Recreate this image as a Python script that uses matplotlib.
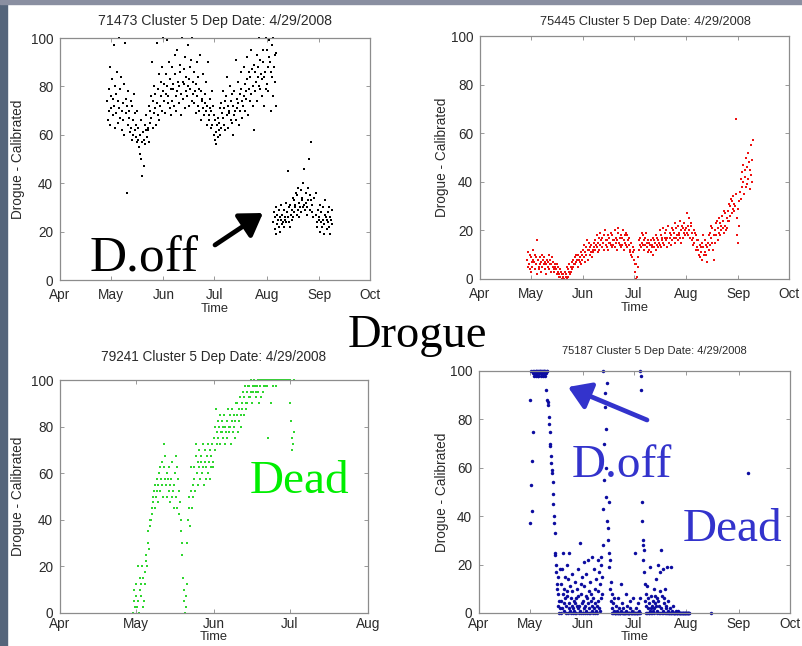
import matplotlib
matplotlib.use('Agg')
import matplotlib.pyplot as plt
import matplotlib.dates as mdates
from matplotlib.patches import FancyArrowPatch, Rectangle
import numpy as np

# Drogue sensor (calibrated) for four Cluster 5 drifters, deployed 4/29/2008.
# Each series is read at a fixed interval from its start time.

# 71473 - one reading every 8 h; drogue on, then off from early Aug
start_71473_on = '2008-04-29T00:00'
drogue_71473_on = [
    74, 66, 79, 70, 88, 64, 76, 71, 83, 68, 75, 97, 72, 63, 80,
    77, 69, 86, 65, 74, 100, 71, 79, 67, 84, 70, 62, 73, 66, 81,
    60, 98, 75, 69, 36, 72, 64, 78, 70, 67, 61, 74, 63, 72, 58,
    66, 60, 77, 62, 69, 59, 64, 57, 70, 58, 63, 55, 60, 52, 66,
    50, 57, 43, 61, 47, 58, 56, 64, 62, 68, 59, 63, 62, 72, 57,
    70, 65, 76, 67, 90, 63, 74, 69, 80, 71, 77, 64, 98, 73, 68,
    79, 66, 85, 72, 82, 76, 88, 70, 78, 100, 74, 81, 69, 85, 77,
    80, 99, 73, 76, 90, 71, 83, 68, 79, 74, 88, 81, 79, 72, 93,
    85, 76, 70, 78, 95, 82, 73, 80, 86, 89, 77, 68, 100, 82, 75,
    81, 87, 71, 92, 78, 84, 76, 97, 80, 83, 72, 88, 79, 91, 74,
    100, 77, 82, 73, 86, 78, 81, 69, 90, 76, 84, 72, 70, 79, 93,
    78, 66, 75, 74, 85, 71, 68, 77, 73, 82, 70, 64, 72, 90, 68,
    66, 75, 71, 70, 63, 78, 64, 72, 60, 68, 58, 66, 61, 56, 64,
    59, 67, 62, 65, 71, 60, 73, 63, 69, 67, 78, 64, 71, 62, 74,
    76, 68, 84, 63, 72, 70, 69, 80, 66, 74, 65, 77, 60, 72, 68,
    78, 70, 91, 66, 75, 71, 73, 82, 64, 70, 77, 86, 79, 67, 74,
    72, 88, 76, 81, 70, 78, 75, 92, 83, 68, 79, 86, 84, 74, 95,
    77, 87, 72, 80, 62, 89, 86, 78, 82, 74, 93, 84, 88, 80, 100,
    79, 91, 85, 83, 76, 95, 90, 84, 72, 86, 100, 79, 95, 81, 88,
    78, 92, 99, 90, 70, 86, 84, 97, 76, 100, 88, 93, 82, 94, 72,
]
start_71473_off_a = '2008-08-05T00:00'
drogue_71473_off_a = [
    24, 28, 21, 26, 19, 30, 23, 27, 25, 29, 22, 26,
    20, 25, 31, 27, 23, 24, 22, 29, 26, 25, 32, 24,
    28, 45, 26, 24, 30, 22, 31, 27, 25, 29, 34, 26,
    33, 28, 31, 30, 36, 27, 35, 29, 38, 32, 26, 30,
    28, 37, 33, 34, 30, 40, 31, 46, 29, 36, 32, 27,
    30, 38, 33, 50, 29, 35, 33, 57, 28, 31, 26, 34,
]
start_71473_off_b = '2008-08-30T00:00'
drogue_71473_off_b = [
    27, 36, 24, 22, 29, 25, 26, 20, 31, 24, 28, 22, 30, 25, 19,
    23, 27, 33, 26, 21, 25, 28, 24, 30, 22, 26, 19, 25, 29, 23,
]

# 75445 - one reading every 8 h
start_75445 = '2008-04-29T00:00'
drogue_75445 = [
    8, 11, 5, 6, 10, 4, 9, 3, 7, 5, 12, 8, 7, 4, 10,
    9, 6, 2, 16, 8, 5, 4, 9, 6, 7, 3, 10, 5, 8, 6,
    9, 4, 7, 6, 2, 8, 7, 5, 10, 4, 8, 6, 6, 3, 9,
    5, 7, 4, 3, 6, 5, 4, 2, 6, 5, 3, 1, 2, 4, 1,
    3, 0, 2, 1, 2, 0, 0, 3, 1, 2, 5, 0, 4, 1, 3,
    6, 2, 5, 3, 7, 4, 8, 5, 6, 9, 6, 10, 7, 10, 8,
    10, 5, 8, 9, 7, 11, 6, 8, 10, 12, 9, 14, 11, 7, 13,
    10, 16, 12, 8, 12, 15, 13, 10, 11, 14, 9, 12, 11, 15, 13,
    16, 12, 14, 13, 18, 11, 15, 12, 17, 14, 19, 16, 17, 13, 15,
    15, 18, 12, 20, 14, 16, 16, 13, 18, 12, 17, 15, 15, 19, 14,
    18, 13, 16, 14, 16, 20, 13, 17, 15, 16, 12, 21, 19, 15, 17,
    14, 18, 13, 17, 14, 20, 12, 16, 18, 15, 19, 14, 18, 13, 16,
    14, 17, 11, 12, 15, 10, 9, 13, 11, 8, 12, 6, 3, 0, 6,
    1, 5, 9, 12, 16, 14, 17, 13, 19, 15, 18, 14, 16, 12, 17,
    14, 19, 15, 13, 16, 11, 15, 12, 14, 11, 16, 13, 14, 10, 17,
    16, 13, 15, 12, 18, 14, 17, 13, 16, 15, 20, 14, 18, 13, 17,
    16, 21, 15, 14, 17, 19, 20, 16, 13, 17, 22, 15, 15, 19, 17,
    18, 14, 21, 16, 20, 17, 19, 15, 23, 17, 21, 18, 22, 16, 19,
    18, 24, 17, 20, 15, 22, 17, 21, 19, 23, 18, 20, 21, 27, 19,
    18, 22, 25, 20, 17, 23, 22, 19, 16, 17, 14, 20, 15, 19, 12,
    18, 13, 16, 12, 16, 10, 14, 9, 13, 11, 15, 8, 13, 18, 10,
    16, 11, 14, 10, 7, 13, 15, 12, 18, 19, 14, 22, 17, 21, 15,
    12, 8, 18, 20, 15, 23, 18, 24, 16, 21, 19, 25, 23, 18, 22,
    20, 26, 21, 24, 19, 28, 22, 27, 20, 25, 21, 24, 28, 24, 31,
    30, 26, 33, 27, 32, 29, 34, 28, 31, 30, 66, 35, 25, 18, 29,
    15, 22, 32, 36, 41, 33, 44, 38, 47, 40, 35, 45, 42, 50, 38,
    46, 39, 52, 41, 48, 37, 45, 55, 43, 49, 40, 57,
]

# 79241 - one reading every 6 h
start_79241 = '2008-04-30T00:00'
drogue_79241 = [
    0, 5, 10, 2.5, 7.5, 12.5, 2.5, 20, 5, 0, 15, 10, 12.5, 7.5, 20, 2.5,
    15, 5, 17.5, 12.5, 22.5, 25, 20, 30, 35, 27.5, 37.5, 40, 40, 45, 42.5, 50,
    47.5, 52.5, 45, 55, 50, 57.5, 52.5, 47.5, 55, 60, 52.5, 62.5, 57.5, 65, 55, 50,
    62.5, 72.5, 57.5, 67.5, 55, 60, 50, 57.5, 52.5, 62.5, 55, 47.5, 57.5, 50, 65, 52.5,
    45, 55, 60, 67.5, 50, 62.5, 45, 57.5, 52.5, 42.5, 47.5, 40, 35, 30, 25, 15,
    10, 5, 0, 2.5, 7.5, 12.5, 30, 40, 45, 50, 37.5, 62.5, 52.5, 45, 55, 50,
    57.5, 62.5, 52.5, 67.5, 72.5, 60, 65, 55, 62.5, 70, 57.5, 65, 67.5, 60, 72.5, 62.5,
    55, 65, 70, 57.5, 62.5, 67.5, 60, 72.5, 65, 57.5, 70, 62.5, 67.5, 72.5, 65, 62.5,
    75, 80, 70, 87.5, 72.5, 77.5, 82.5, 75, 80, 72.5, 85, 77.5, 77.5, 82.5, 75, 80,
    85, 80, 72.5, 77.5, 82.5, 75, 87.5, 80, 77.5, 85, 80, 72.5, 82.5, 87.5, 77.5, 85,
    80, 75, 82.5, 90, 85, 90, 77.5, 87.5, 82.5, 92.5, 85, 80, 90, 87.5, 95, 85,
    92.5, 97.5, 90, 87.5, 95, 90, 97.5, 92.5, 97.5, 92.5, 100, 95, 90, 97.5, 95, 100,
    100, 97.5, 92.5, 95, 97.5, 100, 95, 90, 100, 97.5, 100, 92.5, 100, 95, 100, 97.5,
    100, 100, 97.5, 100, 97.5, 100, 75, 100, 100, 100, 90, 100, 100, 97.5, 100, 100,
    100, 100, 100, 97.5, 100, 100, 100, 100, 100, 100, 100, 100, 100, 100, 100, 100,
    100, 100, 100, 100, 100, 100, 100, 100, 100, 90, 82.5, 75, 70, 72.5, 77.5, 100,
]

# 75187 - one reading every 6 h, then two late fixes
start_75187 = '2008-05-01T00:00'
drogue_75187 = [
    88, 37, 53, 100, 42, 63, 99, 75, 100, 98, 100, 99, 99, 100, 98, 100,
    100, 99, 100, 98, 98, 100, 99, 100, 100, 98, 100, 99, 99, 100, 100, 98,
    100, 99, 100, 98, 100, 92, 99, 100, 88, 100, 87, 86, 81, 78, 75, 70,
    69, 65, 62, 59, 58, 54, 49, 45, 40, 37, 33, 25, 24, 17, 20, 12,
    10, 3, 15, 8, 0, 5, 18, 2, 5, 12, 0, 18, 2, 8, 25, 4,
    10, 1, 6, 15, 0, 3, 9, 20, 7, 0, 14, 2, 4, 25, 1, 11,
    0, 6, 3, 16, 9, 2, 0, 5, 1, 13, 4, 0, 6, 0, 10, 3,
    18, 2, 7, 0, 3, 29, 1, 12, 0, 8, 4, 15, 5, 0, 21, 2,
    11, 3, 0, 7, 1, 16, 6, 0, 22, 4, 0, 9, 2, 0, 13, 5,
    8, 23, 1, 3, 0, 6, 18, 2, 4, 0, 10, 1, 14, 3, 0, 22,
    5, 9, 2, 17, 1, 12, 23, 6, 20, 8, 15, 28, 43, 100, 70, 55,
    91, 85, 76, 48, 60, 38, 95, 30, 35, 19, 46, 25, 10, 22, 5, 13,
    2, 8, 0, 4, 0, 1, 6, 0, 0, 0, 3, 0, 1, 0, 0, 6,
    0, 2, 0, 0, 0, 0, 12, 1, 0, 4, 0, 0, 2, 0, 0, 0,
    0, 0, 1, 8, 0, 3, 0, 0, 0, 0, 0, 2, 5, 0, 0, 0,
    0, 1, 0, 6, 0, 0, 25, 0, 0, 2, 0, 0, 0, 0, 4, 0,
    1, 0, 6, 0, 100, 98, 92, 38, 46, 30, 28, 22, 17, 26, 12, 5,
    3, 8, 0, 11, 0, 6, 2, 0, 4, 0, 19, 1, 7, 2, 0, 3,
    0, 5, 1, 10, 2, 0, 7, 4, 14, 3, 0, 6, 1, 20, 5, 0,
    3, 9, 0, 17, 26, 2, 7, 0, 0, 18, 1, 4, 6, 0, 10, 2,
    0, 3, 0, 19, 1, 0, 5, 0, 0, 2, 0, 0, 0, 19, 1, 0,
    3, 0, 0, 0, 0, 0, 0, 1, 0, 0, 0, 0, 0, 1, 0, 0,
    0, 0, 0, 0, 0, 0, 0, 0, 0, 0, 0, 0, 0, 0, 0, 0,
    0, 0, 0, 0, 0, 0, 0, 0,
]
extra_75187_dates = ['2008-08-15T12:00', '2008-09-06T00:00']
extra_75187_vals = [0, 58]


def times(start, n, hours):
    return np.datetime64(start) + np.arange(n) * np.timedelta64(hours, 'h')


plt.rcParams['font.family'] = 'Liberation Sans'

fig = plt.figure(figsize=(8.02, 6.46), dpi=100)
fig.patch.set_facecolor('white')

# slide background showing at the left and top edge
fig.add_artist(Rectangle((0, 0), 7 / 802, 1, transform=fig.transFigure,
                         color='#55657b', zorder=0))
fig.add_artist(Rectangle((0, 1 - 4 / 646), 1, 4 / 646, transform=fig.transFigure,
                         color='#8a8fa1', zorder=0))

ax1 = fig.add_axes([60 / 802, 1 - 280 / 646, 310 / 802, 242 / 646])
ax2 = fig.add_axes([480 / 802, 1 - 279 / 646, 309 / 802, 243 / 646])
ax3 = fig.add_axes([60 / 802, 1 - 613 / 646, 308 / 802, 233 / 646])
ax4 = fig.add_axes([479 / 802, 1 - 613 / 646, 311 / 802, 242 / 646])

dot = dict(linestyle='none', marker='s', markeredgewidth=0, clip_on=False)

ax1.plot(times(start_71473_on, len(drogue_71473_on), 8), drogue_71473_on,
         color='black', markersize=1.9, **dot)
ax1.plot(times(start_71473_off_a, len(drogue_71473_off_a), 8), drogue_71473_off_a,
         color='black', markersize=1.9, **dot)
ax1.plot(times(start_71473_off_b, len(drogue_71473_off_b), 8), drogue_71473_off_b,
         color='black', markersize=1.9, **dot)

ax2.plot(times(start_75445, len(drogue_75445), 8), drogue_75445,
         color='#ee1111', markersize=2.0, **dot)

ax3.plot(times(start_79241, len(drogue_79241), 6), drogue_79241,
         color='#2fd62f', markersize=2.1, **dot)

ax4.plot(times(start_75187, len(drogue_75187), 6), drogue_75187,
         color='#0c0ca0', linestyle='none', marker='o', markersize=2.5,
         markeredgewidth=0, clip_on=False)
ax4.plot(np.array(extra_75187_dates, dtype='datetime64[m]'), extra_75187_vals,
         color='#0c0ca0', linestyle='none', marker='o', markersize=2.5,
         markeredgewidth=0, clip_on=False)


def style(ax, title, tsize, tpad, tx, end, ylab_x, xlab_y, xpad):
    ax.set_ylim(0, 100)
    ax.set_yticks([0, 20, 40, 60, 80, 100])
    ax.set_xlim(np.datetime64('2008-04-01'), np.datetime64(end))
    ax.xaxis.set_major_locator(mdates.MonthLocator())
    ax.xaxis.set_major_formatter(mdates.DateFormatter('%b'))
    ax.tick_params(direction='in', length=3, width=0.6, color='#888888',
                   labelsize=9.8, labelcolor='#2a2a2a', top=True, right=True)
    ax.tick_params(axis='x', pad=xpad)
    ax.tick_params(axis='y', pad=5)
    for s in ax.spines.values():
        s.set_color('#8c8c8c')
        s.set_linewidth(0.9)
    ax.set_title(title, fontsize=tsize, pad=tpad, x=tx, color='#2a2a2a')
    ax.set_xlabel('Time', fontsize=9.3, color='#2a2a2a')
    ax.set_ylabel('Drogue - Calibrated', fontsize=9.8, color='#2a2a2a')
    ax.xaxis.set_label_coords(0.5, xlab_y)
    ax.yaxis.set_label_coords(ylab_x, 0.5)
    ax.xaxis.label.set_va('center')
    ax.yaxis.label.set_va('center')


style(ax1, '71473 Cluster 5 Dep Date: 4/29/2008', 10.2, 9.4, 0.5, '2008-10-01', -0.135, -0.12, 5.5)
style(ax2, '75445 Cluster 5 Dep Date: 4/29/2008', 9.2, 8, 0.536, '2008-10-01', -0.124, -0.12, 5.5)
style(ax3, '79241 Cluster 5 Dep Date: 4/29/2008', 9.8, 13.7, 0.5, '2008-08-01', -0.136, -0.104, 3.0)
style(ax4, '75187 Cluster 5 Dep Date: 4/29/2008', 8.0, 12, 0.564, '2008-10-01', -0.12, -0.1, 3.0)

# slide annotations
serif = 'Liberation Serif'
fig.text(417.5 / 802, 1 - 347 / 646, 'Drogue', fontsize=33.5, family=serif,
         ha='center', va='baseline', color='black')
fig.text(90 / 802, 1 - 272 / 646, 'D.off', fontsize=37, family=serif,
         ha='left', va='baseline', color='black')
fig.text(250 / 802, 1 - 493 / 646, 'Dead', fontsize=34, family=serif,
         ha='left', va='baseline', color='#00ee00')
fig.text(572 / 802, 1 - 477 / 646, 'D.off', fontsize=34, family=serif,
         ha='left', va='baseline', color='#3333cc')
fig.text(683 / 802, 1 - 541 / 646, 'Dead', fontsize=34, family=serif,
         ha='left', va='baseline', color='#3333cc')

fig.add_artist(FancyArrowPatch((215 / 802, 1 - 245 / 646), (263 / 802, 1 - 213 / 646),
                               transform=fig.transFigure, arrowstyle='-|>,head_length=0.7,head_width=0.45',
                               mutation_scale=19, lw=3.4, color='black',
                               shrinkA=0, shrinkB=0))
fig.add_artist(FancyArrowPatch((647 / 802, 1 - 420 / 646), (568 / 802, 1 - 387 / 646),
                               transform=fig.transFigure, arrowstyle='-|>,head_length=0.7,head_width=0.45',
                               mutation_scale=19, lw=3.4, color='#3333cc',
                               shrinkA=0, shrinkB=0))

fig.savefig('out.png', dpi=100)
